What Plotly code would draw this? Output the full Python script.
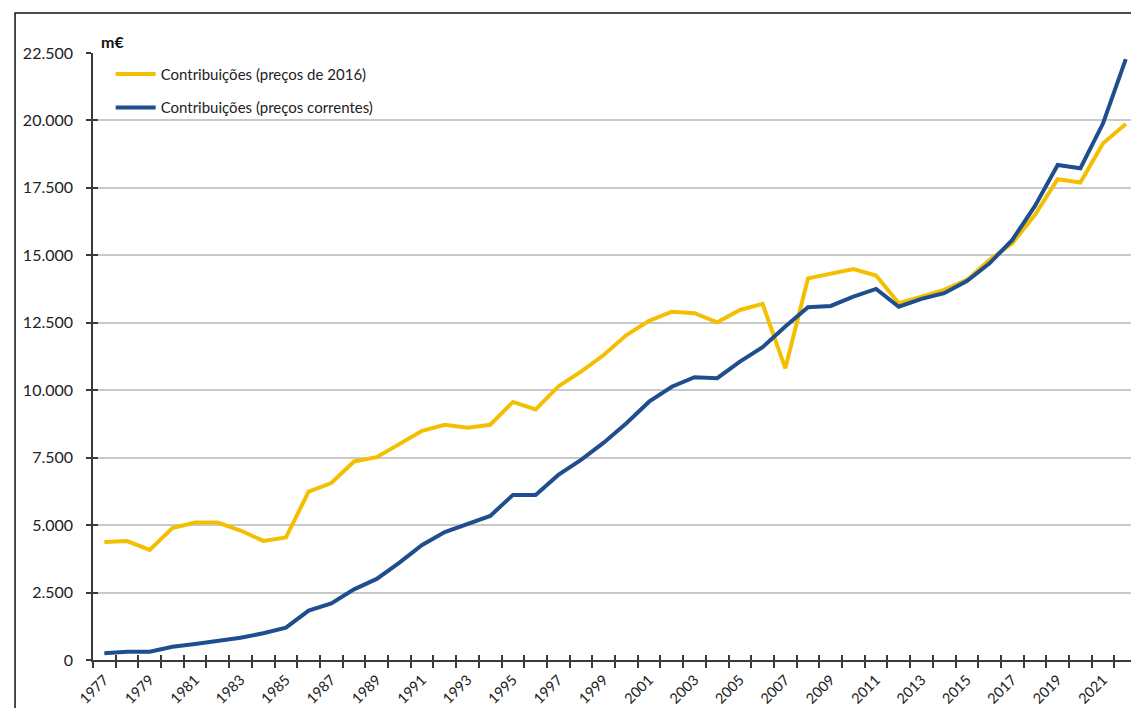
import plotly.graph_objects as go

years = list(range(1977, 2023))
constant_2016 = [4370, 4410, 4080, 4890, 5095, 5095, 4800, 4415, 4540, 6245,
                 6560, 7360, 7520, 8000, 8495, 8720, 8610, 8720, 9565, 9285,
                 10140, 10690, 11305, 12045, 12570, 12910, 12855, 12520, 12975, 13200,
                 10810, 14145, 14310, 14495, 14250, 13225, 13470, 13720, 14090, 14830,
                 15450, 16500, 17820, 17700, 19155, 19870]
current_prices = [250, 305, 305, 490, 595, 705, 825, 990, 1200, 1830,
                  2100, 2620, 3005, 3610, 4265, 4745, 5040, 5340, 6120, 6120,
                  6860, 7415, 8055, 8775, 9575, 10130, 10480, 10445, 11060, 11595,
                  12360, 13075, 13125, 13470, 13755, 13095, 13385, 13595, 14050, 14705,
                  15570, 16830, 18350, 18230, 19895, 22270]
label_years = [y for y in years if y % 2 == 1]
boundaries = [y - 0.5 for y in years] + [years[-1] + 0.5]
y_ticks = list(range(0, 22501, 2500))

YELLOW = "#F4BF00"
BLUE = "#1F4E8E"
AXIS = "#3a3a3a"
FONT = "Lato"

fig = go.Figure()
fig.add_trace(go.Scatter(x=years, y=constant_2016, mode="lines",
                         name="Contribuições (preços de 2016)", legendgroup="a",
                         line=dict(color=YELLOW, width=4)))
fig.add_trace(go.Scatter(x=years, y=current_prices, mode="lines",
                         name="Contribuições (preços correntes)", legendgroup="b",
                         line=dict(color=BLUE, width=4)))
# invisible helper trace for overlay axes (cross tick marks)
fig.add_trace(go.Scatter(x=years, y=current_prices, mode="lines", xaxis="x2", yaxis="y2",
                         showlegend=False, hoverinfo="skip", opacity=0,
                         line=dict(width=0)))

xr = [1976.5, 2022.23]
fig.update_layout(
    width=1131, height=708,
    margin=dict(l=93, r=0, t=53, b=48),
    paper_bgcolor="white", plot_bgcolor="white",
    separators=",.",
    font=dict(family=FONT, size=14, color="#222222"),
    showlegend=True,
    legend=dict(x=0.017, y=0.992, xanchor="left", yanchor="top",
                bgcolor="rgba(0,0,0,0)", font=dict(size=15, family=FONT),
                tracegroupgap=11, traceorder="grouped", itemwidth=40),
    xaxis=dict(range=xr, tickmode="array", tickvals=label_years,
               ticktext=[str(y) for y in label_years], tickangle=-45,
               ticks="", showgrid=False, zeroline=False,
               showline=True, linecolor=AXIS, linewidth=1.5,
               tickfont=dict(size=14.5, family=FONT), ticklabelstandoff=4,
               minor=dict(tickmode="array", tickvals=boundaries, ticks="outside",
                          ticklen=6, tickwidth=1.5, tickcolor=AXIS, showgrid=False)),
    xaxis2=dict(range=xr, overlaying="x", tickmode="array", tickvals=boundaries,
                ticks="inside", ticklen=5, tickwidth=1.5, tickcolor=AXIS,
                showticklabels=False, showgrid=False, zeroline=False, showline=False),
    yaxis=dict(range=[0, 22500], tickmode="array", tickvals=y_ticks,
               tickformat=",d", ticks="outside", ticklen=5, tickwidth=1.5,
               tickcolor=AXIS, showline=True, linecolor=AXIS, linewidth=1.5,
               showgrid=True, gridcolor="#c9c9c9", gridwidth=1.5, zeroline=False,
               tickfont=dict(size=16, family=FONT), ticklabelstandoff=10),
    yaxis2=dict(range=[0, 22500], overlaying="y", side="left", tickmode="array",
                tickvals=y_ticks, ticks="inside", ticklen=5, tickwidth=1.5,
                tickcolor=AXIS, showticklabels=False, showgrid=False,
                zeroline=False, showline=False),
    annotations=[dict(text="<b>m€</b>", xref="paper", yref="paper",
                      x=0.006, y=1.019, xanchor="left", yanchor="middle",
                      showarrow=False, font=dict(size=16, family=FONT, color="#111111"))],
    shapes=[dict(type="rect", xref="paper", yref="paper",
                 x0=-0.0751, x1=1.2, y0=-0.3, y1=1.066,
                 line=dict(color="#111111", width=1.5), fillcolor="rgba(0,0,0,0)",
                 layer="below")],
)

fig.write_html("out.html", config={"displayModeBar": False},
               post_script="document.body.style.margin='0';"
                           "document.body.style.overflow='hidden';"
                           "document.documentElement.style.overflow='hidden';")
